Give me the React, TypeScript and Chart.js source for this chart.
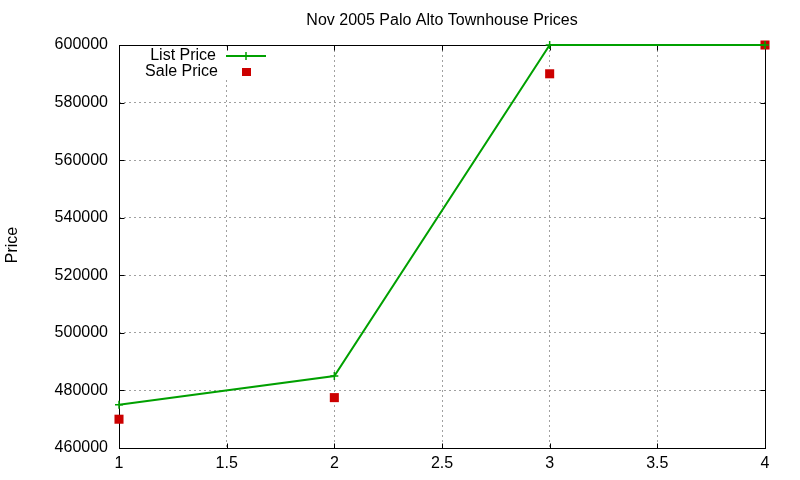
import { useEffect, useRef } from "react";
import { Chart, registerables } from "chart.js";

Chart.register(...registerables);

const xValues = [1, 2, 3, 4];
const listPrice = [475000, 485000, 600000, 600000];
const salePrice = [470000, 477500, 590000, 600000];
const seriesNames = ["List Price", "Sale Price"];
const chartTitle = "Nov 2005 Palo Alto Townhouse Prices";
const yAxisLabel = "Price";

const FONT = '"Liberation Sans", Arial, Helvetica, sans-serif';
const GREEN = "#00a000";
const RED = "#cc0000";

const framePlugin = {
  id: "frame",
  beforeDatasetsDraw(chart: any) {
    const { ctx, chartArea: a, scales } = chart;
    const L = Math.round(a.left) + 0.5;
    const R = Math.round(a.right) + 0.5;
    const T = Math.round(a.top) + 0.5;
    const B = Math.round(a.bottom) + 0.5;
    ctx.save();
    // legend background
    ctx.fillStyle = "#fff";
    ctx.fillRect(L + 1, T + 1, 160, 33);
    // border
    ctx.strokeStyle = "#000";
    ctx.lineWidth = 1;
    ctx.strokeRect(L, T, R - L, B - T);
    // inward ticks, mirrored
    ctx.beginPath();
    for (const t of scales.x.ticks) {
      const px = Math.round(scales.x.getPixelForValue(t.value)) + 0.5;
      ctx.moveTo(px, B);
      ctx.lineTo(px, B - 5);
      ctx.moveTo(px, T);
      ctx.lineTo(px, T + 5);
    }
    for (const t of scales.y.ticks) {
      const py = Math.round(scales.y.getPixelForValue(t.value)) + 0.5;
      ctx.moveTo(L, py);
      ctx.lineTo(L + 5, py);
      ctx.moveTo(R, py);
      ctx.lineTo(R - 5, py);
    }
    ctx.stroke();

    // title
    ctx.fillStyle = "#000";
    ctx.font = `16px ${FONT}`;
    ctx.textAlign = "center";
    ctx.textBaseline = "middle";
    ctx.fillText(chartTitle, (a.left + a.right) / 2, 21);

    // y axis label
    ctx.save();
    ctx.translate(13, 245);
    ctx.rotate(-Math.PI / 2);
    ctx.fillText(yAxisLabel, 0, 0);
    ctx.restore();

    // legend
    ctx.textAlign = "right";
    ctx.fillText(seriesNames[0], 216, 56);
    ctx.fillText(seriesNames[1], 218, 72);
    ctx.strokeStyle = GREEN;
    ctx.lineWidth = 2;
    ctx.beginPath();
    ctx.moveTo(226, 56);
    ctx.lineTo(266, 56);
    ctx.stroke();
    ctx.lineWidth = 1.5;
    ctx.beginPath();
    ctx.moveTo(246, 52);
    ctx.lineTo(246, 60);
    ctx.stroke();
    ctx.fillStyle = RED;
    ctx.fillRect(242, 68, 9, 8);
    ctx.restore();
  },
};

export default function App() {
  const canvasRef = useRef<HTMLCanvasElement | null>(null);

  useEffect(() => {
    document.body.style.margin = "0";
    const canvas = canvasRef.current;
    if (!canvas) return;
    const chart = new Chart(canvas, {
      type: "line",
      data: {
        datasets: [
          {
            label: seriesNames[0],
            data: xValues.map((x, i) => ({ x, y: listPrice[i] })),
            borderColor: GREEN,
            backgroundColor: GREEN,
            borderWidth: 2,
            pointStyle: "cross",
            pointRadius: 4,
            pointBorderWidth: 1.5,
            pointBorderColor: GREEN,
            tension: 0,
            clip: false as any,
          },
          {
            label: seriesNames[1],
            data: xValues.map((x, i) => ({ x, y: salePrice[i] })),
            showLine: false,
            backgroundColor: RED,
            borderColor: RED,
            pointStyle: "rect",
            pointRadius: 6.4,
            pointBorderWidth: 0,
            clip: false as any,
          },
        ],
      },
      options: {
        animation: false,
        responsive: false,
        events: [],
        layout: { padding: { top: 45, right: 35, left: 0, bottom: 0 } },
        plugins: {
          legend: { display: false },
          title: { display: false },
          tooltip: { enabled: false },
        },
        scales: {
          x: {
            type: "linear",
            min: 1,
            max: 4,
            afterFit: (s: any) => {
              s.height = 32;
            },
            ticks: {
              stepSize: 0.5,
              color: "#000",
              font: { family: FONT, size: 16 },
              padding: 6,
              callback: (v: any) => String(v),
            },
            grid: { color: "#a0a0a0", drawTicks: false, lineWidth: 1 },
            border: { display: false, dash: [2, 3] },
          },
          y: {
            type: "linear",
            min: 460000,
            max: 600000,
            afterFit: (s: any) => {
              s.width = 119;
            },
            ticks: {
              stepSize: 20000,
              color: "#000",
              font: { family: FONT, size: 16 },
              padding: 11,
              callback: (v: any) => String(v),
            },
            grid: { color: "#a0a0a0", drawTicks: false, lineWidth: 1 },
            border: { display: false, dash: [2, 3] },
          },
        },
      },
      plugins: [framePlugin],
    });
    return () => chart.destroy();
  }, []);

  return (
    <div style={{ width: 800, height: 480 }}>
      <canvas ref={canvasRef} width={800} height={480} />
    </div>
  );
}
